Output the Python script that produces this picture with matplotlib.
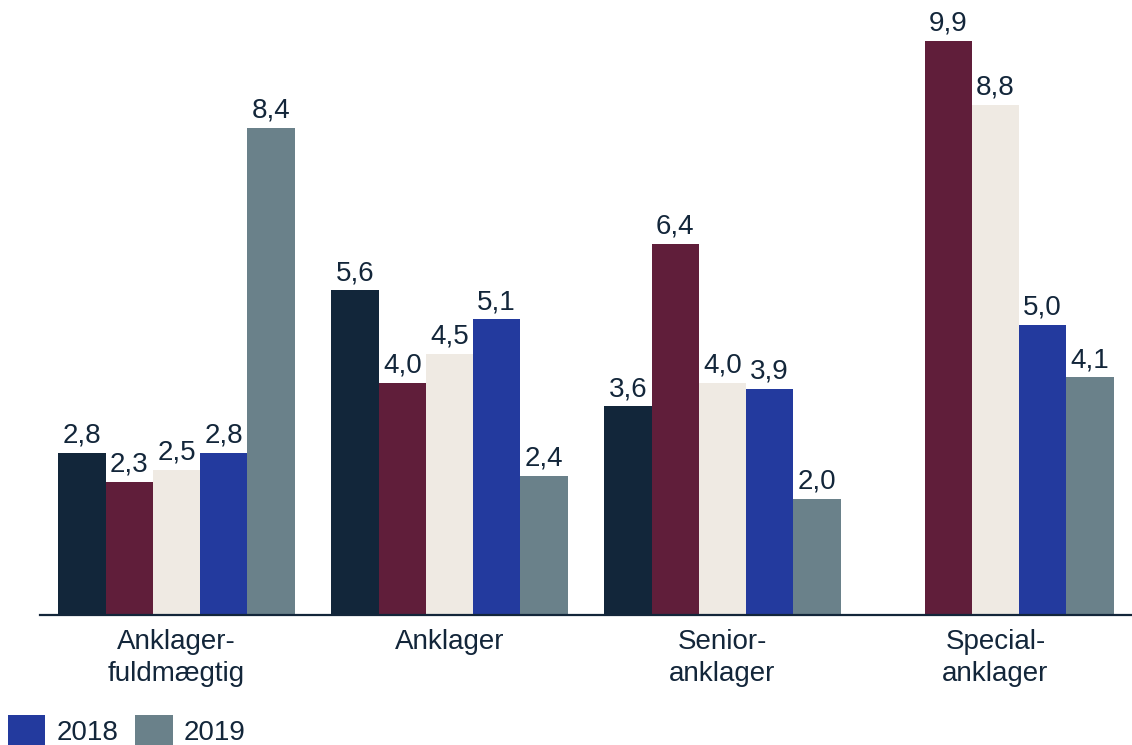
import matplotlib
matplotlib.use("Agg")
import matplotlib.pyplot as plt
import numpy as np

plt.rcParams['font.family'] = ['Liberation Sans', 'DejaVu Sans']

categories = ['Anklager-\nfuldmægtig', 'Anklager', 'Senior-\nanklager', 'Special-\nanklager']
years = ['2015', '2016', '2017', '2018', '2019']
v2015 = [2.8, 5.6, 3.6, np.nan]
v2016 = [2.3, 4.0, 6.4, 9.9]
v2017 = [2.5, 4.5, 4.0, 8.8]
v2018 = [2.8, 5.1, 3.9, 5.0]
v2019 = [8.4, 2.4, 2.0, 4.1]
series = [v2015, v2016, v2017, v2018, v2019]
colors = ['#12263a', '#601e3a', '#efeae3', '#233a9e', '#6a818a']
txt = '#13263a'

fig = plt.figure(figsize=(11.32, 7.45), dpi=100)
ax = fig.add_axes([40 / 1132, 130 / 745, 1092 / 1132, 615 / 745])

x = np.arange(len(categories))
w = 0.173
bars = []
for i, (vals, c, yr) in enumerate(zip(series, colors, years)):
    b = ax.bar(x + (i - 2) * w, vals, width=w, color=c, label=yr)
    labs = ['' if np.isnan(v) else ('%.1f' % v).replace('.', ',') for v in vals]
    ax.bar_label(b, labels=labs, padding=3, fontsize=20, color=txt)
    bars.append(b)

ax.set_xlim(-0.5, 3.5)
ax.set_ylim(0, 615 / 58.0)
ax.set_yticks([])
ax.set_xticks(x)
ax.set_xticklabels(categories, fontsize=20, color=txt, linespacing=1.3)
ax.tick_params(axis='x', length=0, pad=10)
for s in ['top', 'right', 'left']:
    ax.spines[s].set_visible(False)
ax.spines['bottom'].set_color(txt)
ax.spines['bottom'].set_linewidth(1.6)

fig.legend(handles=[bars[3], bars[4]], labels=['2018', '2019'], loc='lower left',
           bbox_to_anchor=(0.007, -0.003), ncol=2, frameon=False, fontsize=20,
           handlelength=1.35, handleheight=1.4, handletextpad=0.4, columnspacing=0.6,
           borderaxespad=0, borderpad=0, labelcolor=txt)

fig.savefig('out.png', dpi=100)
